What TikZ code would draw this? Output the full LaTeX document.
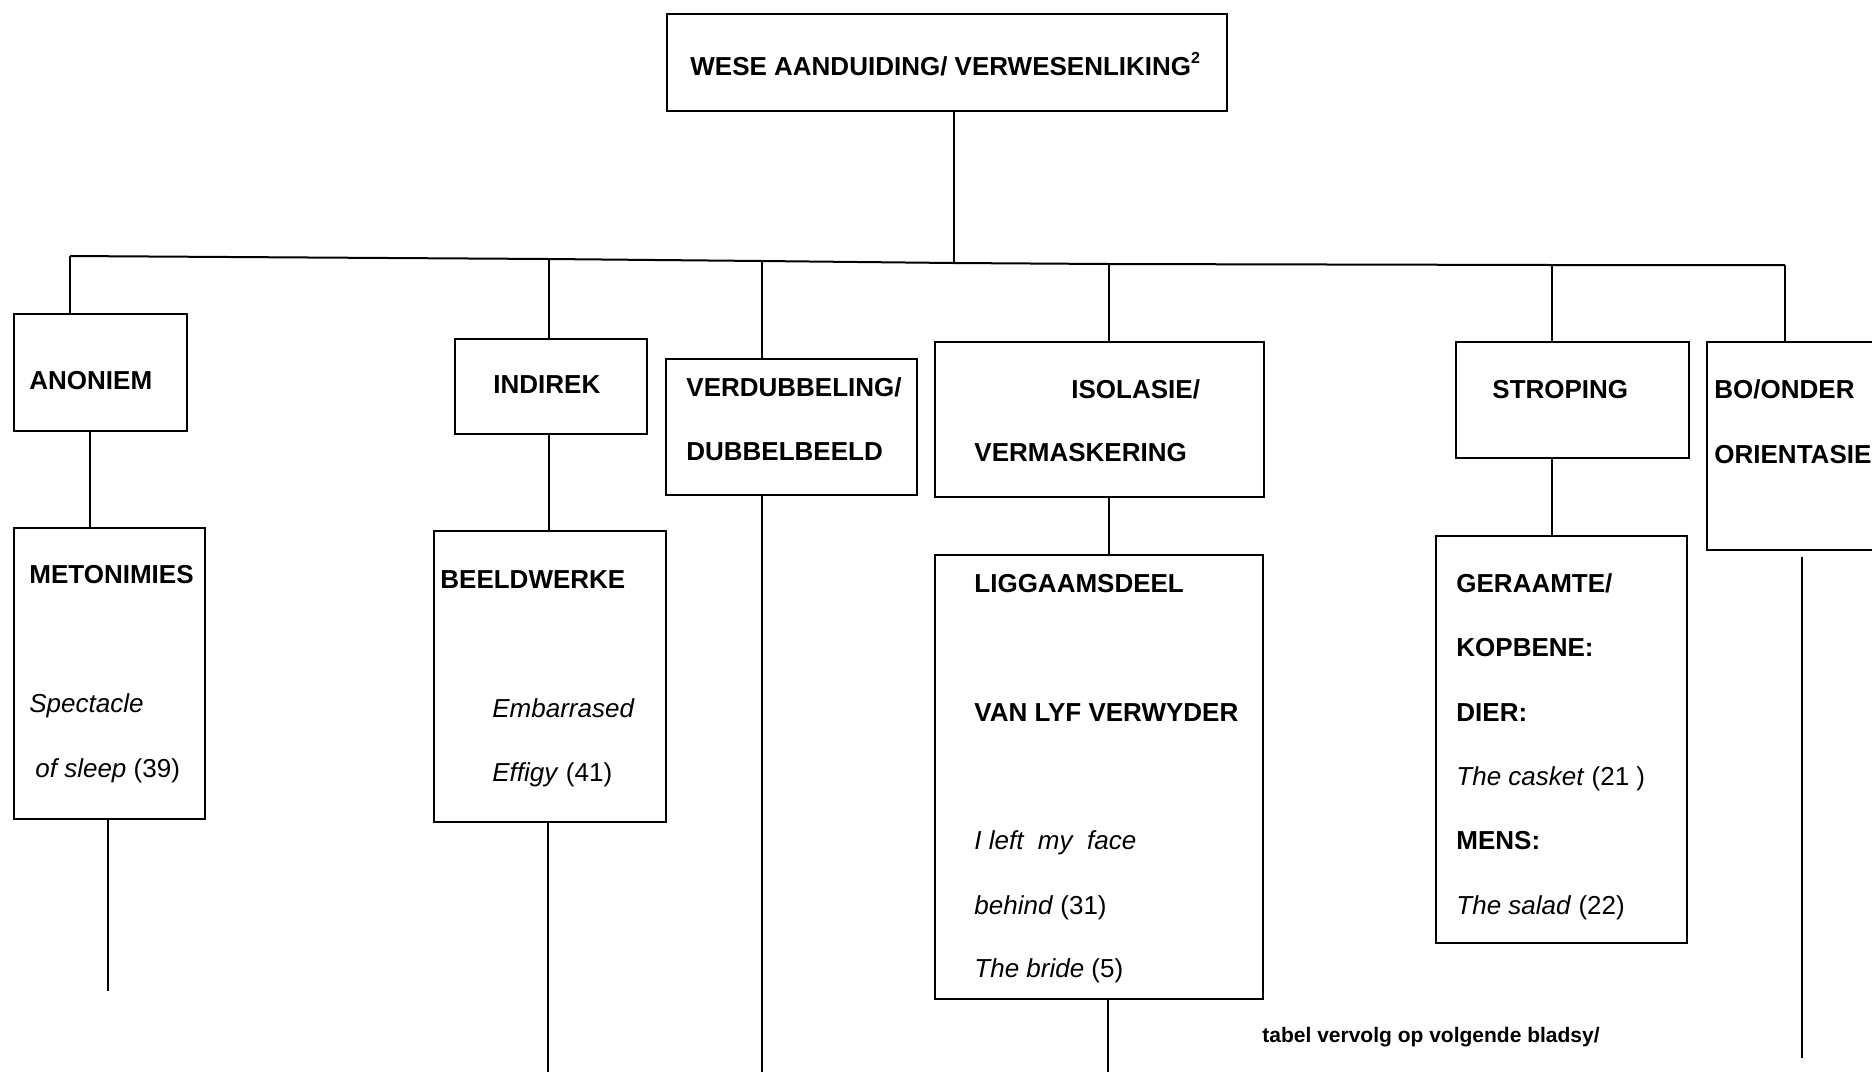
\documentclass[tikz,border=0pt]{standalone}
\usepackage{fontspec}
\setmainfont{Liberation Sans}
\usepackage{tikz}

\begin{document}
\begin{tikzpicture}[
  x=0.5pt, y=-0.5pt,
  box/.style={
    rectangle, draw, line width=1pt, inner sep=0pt,
    anchor=north west
  },
  head/.style={font=\fontsize{13}{15}\selectfont\bfseries, inner sep=0pt, anchor=base west},
  ex/.style={font=\fontsize{13}{15}\selectfont, inner sep=0pt, anchor=base west},
  link/.style={line width=1pt}
]
\clip (0,0) rectangle (1872,1072);

% boxes
\node[box, minimum width=280pt, minimum height=48.5pt] (top) at (666,13) {};
\node[box, minimum width=86.5pt, minimum height=58.5pt] (anon) at (13,313) {};
\node[box, minimum width=95.5pt, minimum height=145.5pt] (met) at (13,527) {};
\node[box, minimum width=96pt, minimum height=47.5pt] (ind) at (454,338) {};
\node[box, minimum width=116pt, minimum height=145.5pt] (bw) at (433,530) {};
\node[box, minimum width=125.5pt, minimum height=68pt] (verd) at (665,358) {};
\node[box, minimum width=164.5pt, minimum height=77.5pt] (iso) at (934,341) {};
\node[box, minimum width=164pt, minimum height=222pt] (lig) at (934,554) {};
\node[box, minimum width=116.5pt, minimum height=58pt] (strop) at (1455,341) {};
\node[box, minimum width=125.5pt, minimum height=203.5pt] (ger) at (1435,535) {};
\node[box, minimum width=120pt, minimum height=104pt] (bo) at (1706,341) {};

% texts
\node[head] (top-t) at (690,75) {WESE AANDUIDING/ VERWESENLIKING\raisebox{0.45em}{\fontsize{8}{9}\selectfont 2}};
\node[head] (anon-t) at (29,389) {ANONIEM};
\node[head] (met-t) at (29,583) {METONIMIES};
\node[ex] (met-a) at (29,712) {\itshape Spectacle};
\node[ex] (met-b) at (35,777) {\itshape of sleep\/\upshape{} (39)};
\node[head] (ind-t) at (493,393) {INDIREK};
\node[head] (bw-t) at (440,588) {BEELDWERKE};
\node[ex] (bw-a) at (492,717) {\itshape Embarrased};
\node[ex] (bw-b) at (492,781) {\itshape Effigy\/\upshape{} (41)};
\node[head] (verd-a) at (686,396) {VERDUBBELING/};
\node[head] (verd-b) at (686,460) {DUBBELBEELD};
\node[head] (iso-a) at (1071,398) {ISOLASIE/};
\node[head] (iso-b) at (974,461) {VERMASKERING};
\node[head] (lig-a) at (974,592) {LIGGAAMSDEEL};
\node[head] (lig-b) at (974,721) {VAN LYF VERWYDER};
\node[ex] (lig-c) at (974,849) {\itshape I left\ \ my\ \ face};
\node[ex] (lig-d) at (974,914) {\itshape behind\/\upshape{} (31)};
\node[ex] (lig-e) at (974,977) {\itshape The bride\/\upshape{} (5)};
\node[head] (strop-t) at (1492,398) {STROPING};
\node[head] (ger-a) at (1456,592) {GERAAMTE/};
\node[head] (ger-b) at (1456,656) {KOPBENE:};
\node[head] (ger-c) at (1456,721) {DIER:};
\node[ex] (ger-d) at (1456,785) {\itshape The casket\/\upshape{} (21 )};
\node[head] (ger-e) at (1456,849) {MENS:};
\node[ex] (ger-f) at (1456,914) {\itshape The salad\/\upshape{} (22)};
\node[head] (bo-a) at (1714,398) {BO/ONDER};
\node[head] (bo-b) at (1714,463) {ORIENTASIE};
\node[head, font=\fontsize{10.5}{12}\selectfont\bfseries] (note) at (1262,1042) {tabel vervolg op volgende bladsy/};

% bus and branches
\coordinate (ba) at (70,256);
\coordinate (bb) at (549,259);
\coordinate (bc) at (762,261);
\coordinate (bt) at (954,263);
\coordinate (bd) at (1109,264);
\coordinate (be) at (1552,265);
\coordinate (bf) at (1785,265);
\draw[link] (bt |- top.south) -- (bt);
\draw[link] (ba) -- (bb) -- (bc) -- (bt) -- (bd) -- (be) -- (bf);
\foreach \b/\n in {ba/anon, bb/ind, bc/verd, bd/iso, be/strop, bf/bo}
  \draw[link] (\b) -- (\b |- \n.north);

% lower links
\coordinate (xa) at (89.5,0);
\coordinate (xb) at (549,0);
\coordinate (xd) at (1109,0);
\coordinate (xe) at (1552,0);
\draw[link] (xa |- anon.south) -- (xa |- met.north);
\draw[link] (xb |- ind.south) -- (xb |- bw.north);
\draw[link] (xd |- iso.south) -- (xd |- lig.north);
\draw[link] (xe |- strop.south) -- (xe |- ger.north);

% free ends
\coordinate (mend) at (107.5,991);
\coordinate (bwend) at (548,1072);
\coordinate (vend) at (762,1072);
\coordinate (lend) at (1108,1072);
\coordinate (bostart) at (1802,557);
\coordinate (boend) at (1802,1058);
\draw[link] (mend |- met.south) -- (mend);
\draw[link] (bwend |- bw.south) -- (bwend);
\draw[link] (vend |- verd.south) -- (vend);
\draw[link] (lend |- lig.south) -- (lend);
\draw[link] (bostart) -- (boend);
\end{tikzpicture}
\end{document}
